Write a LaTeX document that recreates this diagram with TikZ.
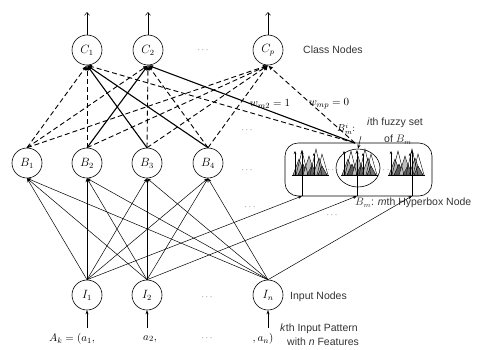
\documentclass[tikz,border=0pt]{standalone}
\usepackage{fontspec}
\setsansfont{Liberation Sans}
\usetikzlibrary{arrows.meta,shapes.geometric}
\begin{document}
\begin{tikzpicture}[x=1pt,y=-1pt,
  neuron/.style={circle,draw,line width=0.6pt,minimum size=30pt,inner sep=0pt,font=\fontsize{12}{14}\selectfont},
  lbl/.style={font=\sffamily\fontsize{10.5}{12}\selectfont,text=black!80,inner sep=0pt},
  mlbl/.style={font=\fontsize{11}{13}\selectfont,inner sep=0pt},
  dots/.style={font=\fontsize{9}{10}\selectfont,text=black!70,inner sep=0pt},
  zero/.style={dashed,dash pattern=on 5pt off 3pt,line width=0.9pt,-{Latex[length=5pt,width=4pt]}},
  one/.style={line width=1.1pt,-{Latex[length=5pt,width=4pt]}},
  inp/.style={line width=0.5pt,-{Stealth[length=4pt,width=3pt]}},
  outarr/.style={line width=0.5pt,-{Straight Barb[length=3pt,width=5pt]}},
  tri/.style={draw,line width=0.4pt}
]
\useasboundingbox (0,0) rectangle (486,349);

% class nodes
\node[neuron] (C1) at (87,50) {$C_1$};
\node[neuron] (C2) at (148,50) {$C_2$};
\node[neuron] (Cp) at (268,50) {$C_p$};
\node[dots] (cd) at (203,50) {$\cdots$};
\node[lbl,anchor=west] (cl) at (303,50) {Class Nodes};
\coordinate (o1) at (87,12);
\coordinate (o2) at (148,12);
\coordinate (op) at (268,12);
\draw[outarr] (C1.north) -- (o1);
\draw[outarr] (C2.north) -- (o2);
\draw[outarr] (Cp.north) -- (op);

% hyperbox nodes
\node[neuron] (B1) at (27,163) {$B_1$};
\node[neuron] (B2) at (87,163) {$B_2$};
\node[neuron] (B3) at (147,163) {$B_3$};
\node[neuron] (B4) at (208,163) {$B_4$};
\node[draw,rounded corners=13pt,line width=0.6pt,minimum width=147pt,minimum height=53pt] (Bm) at (358.5,169.5) {};
\coordinate (bm) at (355,143);
\coordinate (e1) at (302,196);
\coordinate (e2) at (357,196);
\coordinate (e3) at (412,196);

% membership function groups
\newcommand{\mfgroup}[2]{%
\begin{scope}[shift={(#1,#2)}]
  \filldraw[tri,fill=gray!60] (-18,0) -- (-12,-16) -- (-6,0) -- cycle;
  \filldraw[tri,fill=black!65] (-13,0) -- (-8,-11) -- (-3,0) -- cycle;
  \filldraw[tri,fill=gray!50] (-8,0) -- (-2,-19) -- (4,0) -- cycle;
  \filldraw[tri,fill=black!60] (-4,0) -- (1,-10) -- (6,0) -- cycle;
  \filldraw[tri,fill=gray!55] (2,0) -- (8,-17) -- (14,0) -- cycle;
  \filldraw[tri,fill=black!55] (7,0) -- (11,-9) -- (16,0) -- cycle;
  \draw[tri] (-15,0) -- (-9,-24) -- (-3,0);
  \draw[tri] (-1,0) -- (5,-26) -- (11,0);
  \draw[tri] (6,0) -- (11,-21) -- (17,0);
  \draw[line width=0.4pt,-{Stealth[length=3pt,width=2.5pt]}] (-16,0) -- (-16,-24);
  \draw[line width=0.4pt,-{Stealth[length=3pt,width=2.5pt]}] (3,0) -- (3,-22);
  \draw[line width=0.5pt] (-19,0) -- (18,0);
\end{scope}}
\mfgroup{311}{175}
\mfgroup{360}{175}
\mfgroup{407}{175}
\node[dots] (d1) at (333,170) {$\cdots$};
\node[dots] (d2) at (384,170) {$\cdots$};
\node[draw,ellipse,line width=0.6pt,minimum width=44pt,minimum height=38pt,inner sep=0pt] (ell) at (358,168) {};

% labels near hyperbox
\node[lbl,anchor=west] (fz) at (367,123) {\textit{i}th fuzzy set};
\node[lbl,anchor=west] (ofb) at (384,140) {of \rmfamily$B_m$};
\node[mlbl,anchor=west,font=\fontsize{10}{12}\selectfont] (bmi) at (337,129) {$B^{i}_{m}$:};
\coordinate (arrs) at (361,136);
\draw[line width=0.5pt,-{Stealth[length=4pt,width=3pt]}] (arrs) -- (ell.north);
\node[lbl,anchor=west] (bml) at (355,203) {\rmfamily$B_m$\sffamily: \textit{m}th Hyperbox Node};

% C <- B connections
\draw[zero] (B1.north) -- (C1.south);
\draw[zero] (B1.north) -- (C2.south);
\draw[zero] (B1.north) -- (Cp.south);
\draw[zero] (B2.north) -- (C1.south);
\draw[one]  (B2.north) -- (C2.south);
\draw[zero] (B2.north) -- (Cp.south);
\draw[one]  (B3.north) -- (C1.south);
\draw[zero] (B3.north) -- (C2.south);
\draw[zero] (B3.north) -- (Cp.south);
\draw[one]  (B4.north) -- (C1.south);
\draw[zero] (B4.north) -- (C2.south);
\draw[zero] (B4.north) -- (Cp.south);
\draw[zero] (bm) -- (C1.south);
\draw[one]  (bm) -- (C2.south);
\draw[zero] (bm) -- (Cp.south);
\node[mlbl] (w2) at (270,104) {$w_{m2}=1$};
\node[mlbl] (wp) at (329,104) {$w_{mp}=0$};

% dots in middle area
\node[dots] (m1) at (247,130) {$\cdots$};
\node[dots] (m2) at (247,170) {$\cdots$};
\node[dots] (m3) at (250,207) {$\cdots$};
\node[dots] (m4) at (332,215) {$\cdots$};

% input nodes
\node[neuron] (I1) at (87,295) {$I_1$};
\node[neuron] (I2) at (147,295) {$I_2$};
\node[neuron] (In) at (268,295) {$I_n$};
\node[dots] (idd) at (207,297) {$\cdots$};
\node[lbl,anchor=west] (inl) at (290,297) {Input Nodes};

% I -> B connections
\foreach \i in {I1,I2,In}{
  \foreach \b in {B1,B2,B3,B4}{
    \draw[inp] (\i.north) -- (\b.south);
  }
}
\draw[inp] (I1.north) -- (e1);
\draw[inp] (I2.north) -- (e2);
\draw[inp] (In.north) -- (e3);
\foreach \x/\n in {302/v1,357/v2,412/v3}{
  \coordinate (\n) at (\x,150);
}
\draw[inp] (e1) -- (v1);
\draw[inp] (e2) -- (v2);
\draw[inp] (e3) -- (v3);

% input pattern
\coordinate (a1) at (87,328);
\coordinate (a2) at (147,328);
\coordinate (an) at (268,328);
\draw[inp] (a1) -- (I1.south);
\draw[inp] (a2) -- (I2.south);
\draw[inp] (an) -- (In.south);
\node[mlbl] (t1) at (72,339) {$A_k=(a_1,$};
\node[mlbl] (t2) at (150,339) {$a_2,$};
\node[dots] (t3) at (207,338) {$\cdots$};
\node[mlbl] (t4) at (263,339) {$,a_n)$};
\node[lbl,anchor=west] (kt) at (280,329) {\textit{k}th Input Pattern};
\node[lbl,anchor=west] (wn) at (287,342) {with \textit{n} Features};
\end{tikzpicture}
\end{document}
